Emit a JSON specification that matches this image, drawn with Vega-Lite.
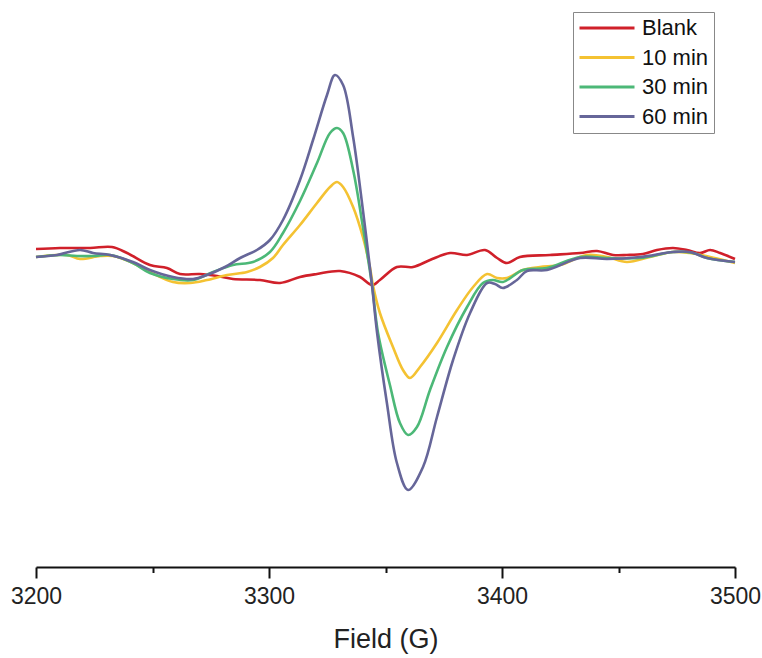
{
  "$schema": "https://vega.github.io/schema/vega-lite/v6.json",
  "width": 699,
  "height": 557,
  "autosize": {"type": "none"},
  "padding": {"left": 36, "top": 10, "right": 27, "bottom": 91},
  "background": "white",
  "config": {"view": {"stroke": null}, "font": "Liberation Sans"},
  "data": {"values": [
    {"series": "Blank", "field": 3200.0, "signal": 36},
    {"series": "Blank", "field": 3210.3, "signal": 37},
    {"series": "Blank", "field": 3223.2, "signal": 37},
    {"series": "Blank", "field": 3232.6, "signal": 38},
    {"series": "Blank", "field": 3239.1, "signal": 32},
    {"series": "Blank", "field": 3248.9, "signal": 20},
    {"series": "Blank", "field": 3256.2, "signal": 17},
    {"series": "Blank", "field": 3261.8, "signal": 11},
    {"series": "Blank", "field": 3270.4, "signal": 11},
    {"series": "Blank", "field": 3277.7, "signal": 9},
    {"series": "Blank", "field": 3284.5, "signal": 6},
    {"series": "Blank", "field": 3296.1, "signal": 5},
    {"series": "Blank", "field": 3304.7, "signal": 2},
    {"series": "Blank", "field": 3313.3, "signal": 8},
    {"series": "Blank", "field": 3320.6, "signal": 11},
    {"series": "Blank", "field": 3330.5, "signal": 14},
    {"series": "Blank", "field": 3339.1, "signal": 8},
    {"series": "Blank", "field": 3344.2, "signal": 0},
    {"series": "Blank", "field": 3347.6, "signal": 5},
    {"series": "Blank", "field": 3354.9, "signal": 18},
    {"series": "Blank", "field": 3361.8, "signal": 18},
    {"series": "Blank", "field": 3369.1, "signal": 25},
    {"series": "Blank", "field": 3377.7, "signal": 32},
    {"series": "Blank", "field": 3385.0, "signal": 30},
    {"series": "Blank", "field": 3392.7, "signal": 35},
    {"series": "Blank", "field": 3397.9, "signal": 27},
    {"series": "Blank", "field": 3402.1, "signal": 22},
    {"series": "Blank", "field": 3407.7, "signal": 28},
    {"series": "Blank", "field": 3420.6, "signal": 30},
    {"series": "Blank", "field": 3433.5, "signal": 32},
    {"series": "Blank", "field": 3440.8, "signal": 34},
    {"series": "Blank", "field": 3447.6, "signal": 30},
    {"series": "Blank", "field": 3453.6, "signal": 30},
    {"series": "Blank", "field": 3460.5, "signal": 31},
    {"series": "Blank", "field": 3466.5, "signal": 35},
    {"series": "Blank", "field": 3473.4, "signal": 37},
    {"series": "Blank", "field": 3479.4, "signal": 35},
    {"series": "Blank", "field": 3485.0, "signal": 32},
    {"series": "Blank", "field": 3489.3, "signal": 35},
    {"series": "Blank", "field": 3493.6, "signal": 32},
    {"series": "Blank", "field": 3500.0, "signal": 26},

    {"series": "10 min", "field": 3200.0, "signal": 28},
    {"series": "10 min", "field": 3213.3, "signal": 30},
    {"series": "10 min", "field": 3218.9, "signal": 26},
    {"series": "10 min", "field": 3227.5, "signal": 29},
    {"series": "10 min", "field": 3233.0, "signal": 29},
    {"series": "10 min", "field": 3241.6, "signal": 22},
    {"series": "10 min", "field": 3248.9, "signal": 13},
    {"series": "10 min", "field": 3258.8, "signal": 3},
    {"series": "10 min", "field": 3266.1, "signal": 2},
    {"series": "10 min", "field": 3273.4, "signal": 5},
    {"series": "10 min", "field": 3282.0, "signal": 10},
    {"series": "10 min", "field": 3290.6, "signal": 13},
    {"series": "10 min", "field": 3296.1, "signal": 18},
    {"series": "10 min", "field": 3301.7, "signal": 27},
    {"series": "10 min", "field": 3306.0, "signal": 40},
    {"series": "10 min", "field": 3313.3, "signal": 60},
    {"series": "10 min", "field": 3320.6, "signal": 82},
    {"series": "10 min", "field": 3326.2, "signal": 98},
    {"series": "10 min", "field": 3329.2, "signal": 103},
    {"series": "10 min", "field": 3331.8, "signal": 98},
    {"series": "10 min", "field": 3336.1, "signal": 78},
    {"series": "10 min", "field": 3340.3, "signal": 48},
    {"series": "10 min", "field": 3343.3, "signal": 18},
    {"series": "10 min", "field": 3344.6, "signal": 0},
    {"series": "10 min", "field": 3347.6, "signal": -28},
    {"series": "10 min", "field": 3353.2, "signal": -62},
    {"series": "10 min", "field": 3357.5, "signal": -85},
    {"series": "10 min", "field": 3360.5, "signal": -93},
    {"series": "10 min", "field": 3364.8, "signal": -82},
    {"series": "10 min", "field": 3372.1, "signal": -58},
    {"series": "10 min", "field": 3380.7, "signal": -25},
    {"series": "10 min", "field": 3387.6, "signal": -2},
    {"series": "10 min", "field": 3393.6, "signal": 11},
    {"series": "10 min", "field": 3397.9, "signal": 7},
    {"series": "10 min", "field": 3402.1, "signal": 7},
    {"series": "10 min", "field": 3409.0, "signal": 15},
    {"series": "10 min", "field": 3416.3, "signal": 18},
    {"series": "10 min", "field": 3424.9, "signal": 20},
    {"series": "10 min", "field": 3436.5, "signal": 30},
    {"series": "10 min", "field": 3445.1, "signal": 28},
    {"series": "10 min", "field": 3453.6, "signal": 23},
    {"series": "10 min", "field": 3463.5, "signal": 28},
    {"series": "10 min", "field": 3473.4, "signal": 33},
    {"series": "10 min", "field": 3480.7, "signal": 32},
    {"series": "10 min", "field": 3489.3, "signal": 28},
    {"series": "10 min", "field": 3500.0, "signal": 22},

    {"series": "30 min", "field": 3200.0, "signal": 28},
    {"series": "30 min", "field": 3210.3, "signal": 30},
    {"series": "30 min", "field": 3217.6, "signal": 29},
    {"series": "30 min", "field": 3224.5, "signal": 29},
    {"series": "30 min", "field": 3231.8, "signal": 30},
    {"series": "30 min", "field": 3241.6, "signal": 22},
    {"series": "30 min", "field": 3248.9, "signal": 12},
    {"series": "30 min", "field": 3258.8, "signal": 6},
    {"series": "30 min", "field": 3267.4, "signal": 5},
    {"series": "30 min", "field": 3276.0, "signal": 13},
    {"series": "30 min", "field": 3284.5, "signal": 20},
    {"series": "30 min", "field": 3293.1, "signal": 23},
    {"series": "30 min", "field": 3300.4, "signal": 33},
    {"series": "30 min", "field": 3306.0, "signal": 52},
    {"series": "30 min", "field": 3313.3, "signal": 84},
    {"series": "30 min", "field": 3320.6, "signal": 122},
    {"series": "30 min", "field": 3326.2, "signal": 152},
    {"series": "30 min", "field": 3329.2, "signal": 157},
    {"series": "30 min", "field": 3331.8, "signal": 152},
    {"series": "30 min", "field": 3336.1, "signal": 115},
    {"series": "30 min", "field": 3340.3, "signal": 58},
    {"series": "30 min", "field": 3344.2, "signal": 0},
    {"series": "30 min", "field": 3346.8, "signal": -48},
    {"series": "30 min", "field": 3351.9, "signal": -100},
    {"series": "30 min", "field": 3356.2, "signal": -138},
    {"series": "30 min", "field": 3359.7, "signal": -150},
    {"series": "30 min", "field": 3363.5, "signal": -142},
    {"series": "30 min", "field": 3369.1, "signal": -105},
    {"series": "30 min", "field": 3376.4, "signal": -62},
    {"series": "30 min", "field": 3385.0, "signal": -22},
    {"series": "30 min", "field": 3391.8, "signal": 2},
    {"series": "30 min", "field": 3396.1, "signal": 5},
    {"series": "30 min", "field": 3400.4, "signal": 3},
    {"series": "30 min", "field": 3409.0, "signal": 15},
    {"series": "30 min", "field": 3419.3, "signal": 17},
    {"series": "30 min", "field": 3433.5, "signal": 28},
    {"series": "30 min", "field": 3445.1, "signal": 27},
    {"series": "30 min", "field": 3459.3, "signal": 27},
    {"series": "30 min", "field": 3473.4, "signal": 33},
    {"series": "30 min", "field": 3482.0, "signal": 32},
    {"series": "30 min", "field": 3488.0, "signal": 27},
    {"series": "30 min", "field": 3500.0, "signal": 23},

    {"series": "60 min", "field": 3200.0, "signal": 28},
    {"series": "60 min", "field": 3209.0, "signal": 30},
    {"series": "60 min", "field": 3218.9, "signal": 35},
    {"series": "60 min", "field": 3224.5, "signal": 32},
    {"series": "60 min", "field": 3231.8, "signal": 30},
    {"series": "60 min", "field": 3241.6, "signal": 23},
    {"series": "60 min", "field": 3248.9, "signal": 15},
    {"series": "60 min", "field": 3258.8, "signal": 8},
    {"series": "60 min", "field": 3267.4, "signal": 6},
    {"series": "60 min", "field": 3273.4, "signal": 10},
    {"series": "60 min", "field": 3281.1, "signal": 18},
    {"series": "60 min", "field": 3287.6, "signal": 27},
    {"series": "60 min", "field": 3294.8, "signal": 35},
    {"series": "60 min", "field": 3300.4, "signal": 45},
    {"series": "60 min", "field": 3306.0, "signal": 65},
    {"series": "60 min", "field": 3313.3, "signal": 105},
    {"series": "60 min", "field": 3318.9, "signal": 145},
    {"series": "60 min", "field": 3324.9, "signal": 190},
    {"series": "60 min", "field": 3328.3, "signal": 210},
    {"series": "60 min", "field": 3331.8, "signal": 200},
    {"series": "60 min", "field": 3336.1, "signal": 148},
    {"series": "60 min", "field": 3340.3, "signal": 75},
    {"series": "60 min", "field": 3344.2, "signal": 0},
    {"series": "60 min", "field": 3346.4, "signal": -48},
    {"series": "60 min", "field": 3350.6, "signal": -118},
    {"series": "60 min", "field": 3354.9, "signal": -178},
    {"series": "60 min", "field": 3359.7, "signal": -205},
    {"series": "60 min", "field": 3366.1, "signal": -182},
    {"series": "60 min", "field": 3372.1, "signal": -132},
    {"series": "60 min", "field": 3379.0, "signal": -75},
    {"series": "60 min", "field": 3386.3, "signal": -28},
    {"series": "60 min", "field": 3393.6, "signal": 2},
    {"series": "60 min", "field": 3397.0, "signal": 1},
    {"series": "60 min", "field": 3400.4, "signal": -3},
    {"series": "60 min", "field": 3406.4, "signal": 5},
    {"series": "60 min", "field": 3410.7, "signal": 14},
    {"series": "60 min", "field": 3419.3, "signal": 15},
    {"series": "60 min", "field": 3433.5, "signal": 27},
    {"series": "60 min", "field": 3445.1, "signal": 26},
    {"series": "60 min", "field": 3459.3, "signal": 28},
    {"series": "60 min", "field": 3473.4, "signal": 33},
    {"series": "60 min", "field": 3480.7, "signal": 33},
    {"series": "60 min", "field": 3488.0, "signal": 27},
    {"series": "60 min", "field": 3500.0, "signal": 23}
  ]},
  "mark": {"type": "line", "interpolate": "catmull-rom", "strokeWidth": 2.6},
  "encoding": {
    "x": {
      "field": "field",
      "type": "quantitative",
      "scale": {"domain": [3200, 3500], "nice": false, "zero": false},
      "axis": {
        "values": [3200, 3250, 3300, 3350, 3400, 3450, 3500],
        "format": "d",
        "labelExpr": "datum.value % 100 === 0 ? datum.label : ''",
        "tickSize": {"condition": {"test": "datum.value % 100 === 0", "value": 11}, "value": 5.5},
        "tickWidth": 2,
        "tickColor": "#111111",
        "domainWidth": 2,
        "domainColor": "#111111",
        "grid": false,
        "labelFont": "Liberation Sans",
        "labelFontSize": 23,
        "labelColor": "#222222",
        "labelPadding": 7,
        "labelFlush": false,
        "labelOverlap": false,
        "title": "Field (G)",
        "titleFont": "Liberation Sans",
        "titleFontSize": 27,
        "titleFontWeight": "normal",
        "titleColor": "#222222",
        "titleBaseline": "alphabetic",
        "titleY": 80
      }
    },
    "y": {
      "field": "signal",
      "type": "quantitative",
      "scale": {"domain": [-282, 275], "nice": false, "zero": false},
      "axis": null
    },
    "color": {
      "field": "series",
      "type": "nominal",
      "scale": {
        "domain": ["Blank", "10 min", "30 min", "60 min"],
        "range": ["#D0202A", "#F4C232", "#4CB877", "#666699"]
      },
      "legend": {
        "title": null,
        "orient": "none",
        "legendX": 537,
        "legendY": 2,
        "symbolType": "stroke",
        "symbolSize": 3025,
        "symbolStrokeWidth": 3,
        "clipHeight": 22,
        "rowPadding": 7.5,
        "labelFont": "Liberation Sans",
        "labelFontSize": 22,
        "labelColor": "#111111",
        "labelOffset": 6,
        "labelLimit": 0,
        "padding": 5,
        "strokeColor": "#888888"
      }
    }
  }
}
